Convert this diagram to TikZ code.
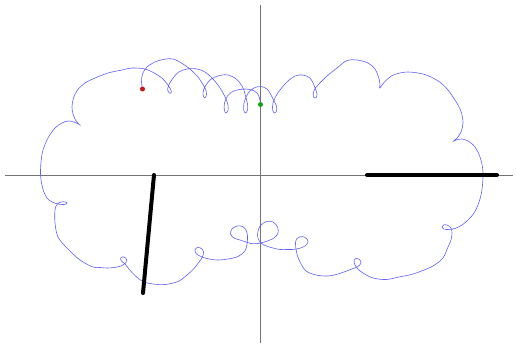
\documentclass[tikz,border=0pt]{standalone}
\usetikzlibrary{positioning}

\definecolor{tracecol}{RGB}{95,95,255}
\definecolor{startcol}{RGB}{200,20,20}
\definecolor{endcol}{RGB}{20,160,20}

\begin{document}
\begin{tikzpicture}[
  x=1pt, y=-1pt,
  axis/.style={draw=black!55, line width=0.6pt},
  rod/.style={draw=black, line width=4pt, line cap=round},
  trace/.style={draw=tracecol, line width=0.6pt, line join=round},
  dot/.style={circle, inner sep=0pt, minimum size=5pt}
]
  \useasboundingbox (0,0) rectangle (516,345);

  % Axes
  \coordinate (xl) at (5,175);
  \coordinate (xr) at (513,175);
  \coordinate (yt) at (260,5);
  \coordinate (yb) at (260,343);
  \draw[axis] (xl) -- (xr);
  \draw[axis] (yt) -- (yb);

  % Trace
  \draw[trace] plot[smooth, tension=0.55] coordinates {
    (142.5,89) (141.5,82) (142.5,74) (147,67) (155,62) (163,59.5) (173,59)
    (183,64) (191,70) (198,77) (202,83)
    (205.5,89) (206.5,94) (205,98) (203.2,95.5) (203.5,90) (206,85) (210,80) (215,77)
    (222,75) (228,75) (235,78) (240,83) (243.5,89)
    (245.5,96) (247.5,104) (247.5,110) (245.5,113) (243.7,110) (244,103) (246.5,96) (250,91) (255,87.5)
    (261,86.5) (267,89) (270.5,94)
    (273.5,100) (276.5,106) (276.5,111) (274.5,113) (272.6,110) (273,103) (276,96) (280,90)
    (287,82) (295,76) (303,75) (310,78) (313.5,84)
    (315.5,89) (317,94) (316,98) (314,97.5) (313.2,94) (314.5,89.5) (318,85)
    (327,76) (337,68) (347,60.5) (357,60) (368,63) (375,69) (378.5,77) (380,84)
    (379.5,88) (381,86.5) (384,82.5) (390,77) (396,74) (408,72) (423,74) (433,78)
    (441,83) (448,90) (453,97) (458,105) (461.5,113) (463,123) (461,132) (457,138)
    (453,141.5) (456,140) (462,139) (469,141.5) (475,147) (478,152) (481.5,162)
    (483,173) (482.5,185) (481,195) (478,205) (474,213) (469,219) (462,225) (455,228.5)
    (448,229.5) (444,229) (442,227) (443.5,225) (447,225) (451,228) (452,233)
    (451,240) (448,247) (443,258) (436,264) (429,268) (413,274) (399,277) (386,279.5)
    (373,278) (363,273) (358,269)
    (355,265) (354,261) (356,258.5) (359.5,259.5) (361,263) (358,266.5) (353,268.5)
    (348,270.5) (338,274) (328,276) (316,275) (306,271) (301,264) (297.5,256)
    (296,249) (295.5,243) (297,238.5) (302,236.5) (306.5,238.5) (308,242) (305,246)
    (299,248.5) (292,249.5) (287,249.5) (280,249.5) (273,248)
    (265,245.5) (259.5,241.5) (257.5,235) (260,226) (266.5,221.5) (273,222) (277.5,227)
    (278,233) (274,238) (266,241.5) (258,243.5) (251,243.5)
    (246,242) (240,240) (234,238) (230.5,234) (232,229) (237,226) (242.5,226.5)
    (246,230) (247.5,236) (247,244) (245,251) (238,256.5) (228,259) (217,260) (207,258.5)
    (201,256.5) (196.5,254) (195,250) (197.5,247.5) (201.5,248.5) (203.5,252)
    (202.5,257) (199,262) (194,268.5) (187,275) (178,281.5) (165,284.5) (153,284)
    (143,281.5) (135,275.5) (129,269)
    (125,264) (121,260.5) (121,257.5) (124,257) (126.5,259.5) (125.5,263) (121,266)
    (114,267.5) (107,268) (100,267.5) (93,267) (80,260) (67,248) (58,237) (55,223) (55,210)
    (57,204.5) (61,202) (65.5,202) (67,203.3) (64,204.5) (58,204) (52,202)
    (47,198) (43.5,191) (41.5,183) (40.5,174) (41,162) (43,150) (48,138) (55,128)
    (62,123) (68,121) (74,122)
    (78.5,124) (80.5,125.5) (78,123.3) (75.5,120) (73,114) (72,107) (73.5,98)
    (77.5,90) (85,83) (95,78) (108,73) (122,70) (132,68) (145,69) (155,73.5) (163,79) (167.5,84.5)
    (170.5,89) (171.5,92) (170,93.5) (167.8,90.5) (168.3,86.5) (171,81)
    (178,72.5) (187,69) (197,69) (205,72) (212,78) (218,85) (222.5,92)
    (226,99) (228,105) (228,110.5) (226,113) (224.3,110) (224.5,103) (227.5,96)
    (231,92.5) (237,90) (245,89) (252,90) (257,93) (259.5,98) (260.5,104)
  };

  % Rods
  \coordinate (rightpivot) at (367,175);
  \coordinate (righttip) at (497,175);
  \coordinate (leftpivot) at (154,175);
  \coordinate (lefttip) at (143,293);
  \draw[rod] (rightpivot) -- (righttip);
  \draw[rod] (leftpivot) -- (lefttip);

  % Start and end of the trace
  \node[dot, fill=startcol] (start) at (142.5,89) {};
  \node[dot, fill=endcol] (current) at (260.5,104.5) {};

\end{tikzpicture}
\end{document}
